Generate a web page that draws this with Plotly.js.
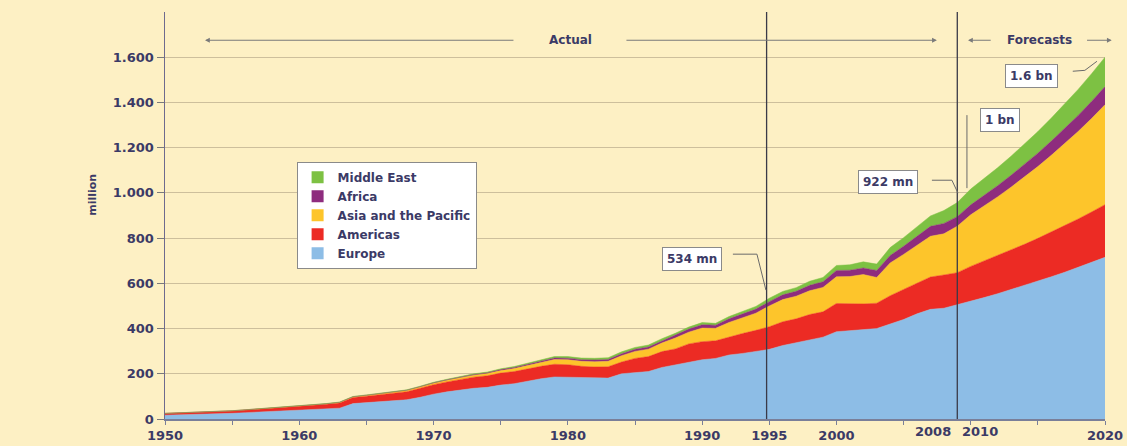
<!DOCTYPE html>
<html>
<head>
<meta charset="utf-8">
<script src="https://cdn.plot.ly/plotly-3.0.1.min.js"></script>
<style>
html,body{margin:0;padding:0;background:#FDF0C4;}
#chart{width:1127px;height:446px;}
</style>
</head>
<body>
<div id="chart"></div>
<script>
const years = [];
for (let y = 1950; y <= 2020; y++) years.push(y);

const europe = [16.8,18,19.5,21,23, 25,28,31,34,37, 40,42,45,48,68, 73,77,81,85,96,
  110,120,128,136,140, 150,156,168,178,186, 185,181,180,181,200, 206,210,228,240,250,
  262,268,283,290,300, 308,325,338,352,362, 386,390,395,400,420, 440,465,485,490,505,
  520,537,554,572,590,609,629,649,670,692,715];
const americas = [7.5,8,8.5,9,9.5, 10.5,11.5,12.5,13.5,15, 17,18.5,20,23,27, 28,31,33,36,40,
  42,44,47,49,51, 53,54,54,55,56, 55,52,50,50,52, 62,66,70,70,82,
  80,78,80,88,92, 100,105,105,110,112, 125,120,114,112,125, 133,136,143,147,142,
  155,161.5,168,175,182.5,190,198,206,214.5,223.5,233];
const asiaPacific = [0.2,0.2,0.3,0.3,0.4, 0.4,0.5,0.5,0.6,0.7, 0.9,1.2,1.5,2,2.5, 3,3.5,4,4.5,5.2,
  6,7,8,9,10, 11,13,15,18,21, 22,22,23,24,28, 31,33,38,48,52,
  60,55,64,70,76, 92,98,100,105,108, 118,120,130,114,145, 155,168,180,182,206,
  228,243.6,260.3,278.1,297.1,317.4,339.1,362.3,387.1,413.6,442];
const africa = [0.5,0.5,0.5,0.6,0.6, 0.6,0.7,0.7,0.7,0.8, 0.8,0.9,1,1.1,1.2, 1.4,1.6,1.8,2,2.2,
  2.4,2.7,3,3.3,3.6, 4.5,5,5.5,6,6.7, 7,7.5,8,8,8.5, 9.5,9.5,10,12,13.5,
  14.8,14,16,17,18, 19,21,22,24,25, 28,28,29,31,33, 36,41,44,46,42,
  44,46.7,49.6,52.7,56,59.4,63.1,67,71.2,75.6,80];
const middleEast = [0.2,0.2,0.3,0.3,0.3, 0.4,0.4,0.4,0.5,0.5, 0.6,0.7,0.8,0.9,1, 1.1,1.2,1.4,1.5,1.7,
  1.9,2,2.3,2.6,3, 3.5,4,4.7,5.5,6.5, 7,7,7.5,8,8.5, 8,8.5,9,9,9,
  9.6,8,10,11,12, 15,15,16,18,19, 22,24,27,28,35, 38,41,46,57,62,
  70,74.5,79.2,84.3,89.7,95.4,101.5,108,114.9,122.2,130];

const seriesNames = ['Europe','Americas','Asia and the Pacific','Africa','Middle East'];
const seriesColors = ['#8DBDE6','#EC2B24','#FDC52B','#8E2C7E','#7DC143'];
const seriesData = [europe, americas, asiaPacific, africa, middleEast];

const yTickVals = [0,200,400,600,800,1000,1200,1400,1600];
const yTickText = ['0','200','400','600','800','1.000','1.200','1.400','1.600'];
const xTickVals = [1950,1955,1960,1965,1970,1975,1980,1985,1990,1995,2000,2005,2010,2015,2020];
const xTickText = ['1950','','1960','','1970','','1980','','1990','1995','2000','','','','2020'];

const txt = '#3B3A66';
const fontFam = '"DejaVu Sans", Verdana, sans-serif';

const traces = seriesNames.map((n,i)=>({
  type:'scatter', mode:'lines', name:n, x:years, y:seriesData[i],
  stackgroup:'one', fillcolor:seriesColors[i], showlegend:false,
  line:{width:0.5, color:seriesColors[i]}, hoverinfo:'skip'
}));
// legend swatches (square symbols)
seriesNames.forEach((n,i)=>{
  traces.push({type:'bar', name:n, x:[null], y:[null], marker:{color:seriesColors[i]},
    showlegend:true, hoverinfo:'skip'});
});

function box(text, x, y){
  return {x:x, y:y, xref:'x', yref:'y', text:'<b>'+text+'</b>', showarrow:false,
    bgcolor:'#FFFFFF', bordercolor:'#8A8A8A', borderwidth:1, borderpad:4,
    font:{family:fontFam, size:12, color:txt}};
}
function arrow(x, ax, y){
  return {x:x, y:y, ax:ax, ay:y, xref:'x', yref:'y', axref:'x', ayref:'y', text:'',
    showarrow:true, arrowhead:2, arrowsize:0.8, arrowwidth:1.2, arrowcolor:'#7A7A7A'};
}

const layout = {
  width:1127, height:446,
  margin:{l:165, r:22, t:12, b:27},
  paper_bgcolor:'#FDF0C4', plot_bgcolor:'#FDF0C4',
  showlegend:true,
  legend:{x:0.14, y:0.632, xanchor:'left', yanchor:'top', traceorder:'reversed',
    bgcolor:'#FFFFFF', bordercolor:'#8A8A8A', borderwidth:1,
    font:{family:fontFam, size:12, color:txt, weight:'bold'}, tracegroupgap:0, itemwidth:30},
  xaxis:{range:[1950,2020], tickvals:xTickVals, ticktext:xTickText, showgrid:false, zeroline:false,
    showline:true, linecolor:'#7A7F99', linewidth:1.5, ticks:'outside', ticklen:4, tickcolor:'#7A7F99',
    tickfont:{family:fontFam, size:13, color:txt, weight:'bold'}, fixedrange:true},
  yaxis:{range:[0,1800], tickvals:yTickVals, ticktext:yTickText, showgrid:true, gridcolor:'#CDBF9C', gridwidth:1,
    zeroline:false, showline:true, linecolor:'#6E6A8E', linewidth:1.5, ticks:'outside', ticklen:7, tickcolor:'#7A7A7A',
    tickfont:{family:fontFam, size:13, color:txt, weight:'bold'}, fixedrange:true},
  shapes:[
    {type:'line', xref:'x', yref:'paper', x0:1994.8, x1:1994.8, y0:0, y1:1, line:{color:'#3A3A48', width:1.3}},
    {type:'line', xref:'x', yref:'paper', x0:2009, x1:2009, y0:0, y1:1, line:{color:'#3A3A48', width:1.3}},
    {type:'path', xref:'x', yref:'y', path:'M 1992.29,729 L 1994.08,729 L 1994.75,570', line:{color:'#6A6A6A', width:1}},
    {type:'path', xref:'x', yref:'y', path:'M 2007.11,1056 L 2008.6,1056 L 2009.05,999', line:{color:'#6A6A6A', width:1}},
    {type:'line', xref:'x', yref:'y', x0:2009.72, x1:2009.72, y0:1021, y1:1344, line:{color:'#6A6A6A', width:1}},
    {type:'path', xref:'x', yref:'y', path:'M 2017.6,1538 L 2018.5,1542 L 2019.4,1582', line:{color:'#6A6A6A', width:1}}
  ],
  annotations:[
    {x:1980.2, y:1675, xref:'x', yref:'y', text:'<b>Actual</b>', showarrow:false,
      font:{family:fontFam, size:12, color:txt}},
    arrow(1952.98, 1976.06, 1675),
    arrow(2007.48, 1984.25, 1675),
    {x:2015.15, y:1675, xref:'x', yref:'y', text:'<b>Forecasts</b>', showarrow:false,
      font:{family:fontFam, size:12, color:txt}},
    arrow(2009.8, 2011.6, 1675),
    arrow(2020.5, 2018.55, 1675),
    box('534 mn', 1989.24, 707),
    box('922 mn', 2003.84, 1047),
    box('1 bn', 2012.17, 1321),
    box('1.6 bn', 2014.56, 1516),
    {x:2007.2, y:0, xref:'x', yref:'paper', yanchor:'top', yshift:-3, text:'<b>2008</b>', showarrow:false,
      font:{family:fontFam, size:13, color:txt}},
    {x:2010.7, y:0, xref:'x', yref:'paper', yanchor:'top', yshift:-3, text:'<b>2010</b>', showarrow:false,
      font:{family:fontFam, size:13, color:txt}},
    {x:-0.077, y:0.55, xref:'paper', yref:'paper', xanchor:'center', yanchor:'middle', text:'<b>million</b>', textangle:-90, showarrow:false,
      font:{family:fontFam, size:11, color:txt}}
  ]
};

Plotly.newPlot('chart', traces, layout, {staticPlot:true, displayModeBar:false});
</script>
</body>
</html>
